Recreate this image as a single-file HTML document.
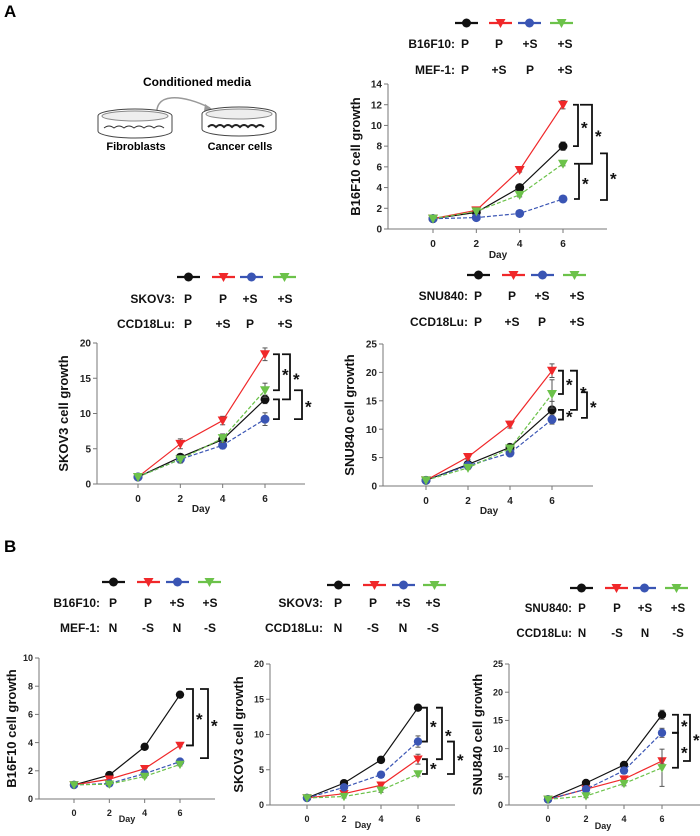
<!DOCTYPE html>
<html><head><meta charset="utf-8"><style>
html,body{margin:0;padding:0;background:#fff;}
svg{display:block;font-family:"Liberation Sans",Arial,sans-serif;}
</style></head><body>
<svg id="fig" width="700" height="836" viewBox="0 0 700 836">
<text x="4" y="17" font-size="17" font-weight="bold">A</text>
<text x="4" y="552" font-size="17" font-weight="bold">B</text>
<g>
<text x="197" y="86" font-size="12" font-weight="bold" text-anchor="middle">Conditioned media</text>
<path d="M158,120 C150,90 185,95 210,108" fill="none" stroke="#999" stroke-width="1.5"/>
<path d="M205,104 L212,109 L204,111 Z" fill="#999"/>
<g>
<ellipse cx="135" cy="116" rx="37" ry="7" fill="#fff" stroke="#444"/>
<path d="M98,116 L98,131 A37,7 0 0 0 172,131 L172,116" fill="#fff" stroke="#444"/>
<ellipse cx="135" cy="116" rx="33" ry="5" fill="#eee" stroke="#888"/>
<path d="M104,128 q5,-4 10,0 q5,-4 10,0 q5,-4 10,0 q5,-4 10,0 q5,-4 10,0 q5,-4 10,0" fill="none" stroke="#333"/>
</g>
<g>
<ellipse cx="239" cy="114" rx="37" ry="7" fill="#fff" stroke="#444"/>
<path d="M202,114 L202,129 A37,7 0 0 0 276,129 L276,114" fill="#fff" stroke="#444"/>
<ellipse cx="239" cy="114" rx="33" ry="5" fill="#eee" stroke="#888"/>
<path d="M208,127 q4,-4 8,0 q4,-4 8,0 q4,-4 8,0 q4,-4 8,0 q4,-4 8,0 q4,-4 8,0 q4,-4 8,0" fill="none" stroke="#222" stroke-width="2"/>
</g>
<text x="136" y="150" font-size="11" font-weight="bold" text-anchor="middle">Fibroblasts</text>
<text x="240" y="150" font-size="11" font-weight="bold" text-anchor="middle">Cancer cells</text>
</g>
</svg>
<script>
const days = [0, 2, 4, 6];
// A1 B16F10
const a1Black = [1, 1.6, 4, 8];
const a1Red = [1, 1.8, 5.7, 12];
const a1Blue = [1, 1.1, 1.5, 2.9];
const a1Green = [1, 1.7, 3.3, 6.3];
const a1Ticks = [0, 2, 4, 6, 8, 10, 12, 14];
// A2 SKOV3
const a2Black = [1, 3.8, 6.3, 12];
const a2Red = [1, 5.7, 9, 18.4];
const a2Blue = [1, 3.5, 5.5, 9.2];
const a2Green = [1, 3.5, 6.5, 13.3];
const a2Ticks = [0, 5, 10, 15, 20];
// A3 SNU840
const a3Black = [1, 3.8, 6.8, 13.4];
const a3Red = [1, 5.1, 10.8, 20.3];
const a3Blue = [1, 3.6, 5.8, 11.7];
const a3Green = [1, 3.2, 6.6, 16.2];
const a3Ticks = [0, 5, 10, 15, 20, 25];
// B1 B16F10
const b1Black = [1, 1.7, 3.7, 7.4];
const b1Red = [1, 1.4, 2.15, 3.8];
const b1Blue = [1, 1.1, 1.8, 2.65];
const b1Green = [1, 1.05, 1.6, 2.45];
const b1Ticks = [0, 2, 4, 6, 8, 10];
// B2 SKOV3
const b2Black = [1, 3.1, 6.4, 13.8];
const b2Red = [1, 1.6, 2.8, 6.5];
const b2Blue = [1, 2.5, 4.3, 9];
const b2Green = [1, 1.2, 2.1, 4.4];
const b2Ticks = [0, 5, 10, 15, 20];
// B3 SNU840
const b3Black = [1, 3.9, 7.1, 16];
const b3Red = [1, 2.8, 4.6, 7.8];
const b3Blue = [1, 2.8, 6.1, 12.8];
const b3Green = [1, 1.6, 3.8, 6.6];
const b3Ticks = [0, 5, 10, 15, 20, 25];
// error bars (half-widths)
const a1Err = [[0,0.1,0.2,0.4],[0,0.1,0.2,0.4],[0,0.1,0.1,0.15],[0,0.1,0.2,0.2]];
const a2Err = [[0,0.3,0.4,0.6],[0,0.7,0.6,0.9],[0,0.5,0.5,0.9],[0,0.5,0.6,1]];
const a3Err = [[0,0.3,0.6,1.5],[0,0.4,0.6,1.2],[0,0.3,0.5,0.8],[0,0.3,0.6,2.5]];
const b1Err = [[0,0.1,0.1,0.1],[0,0.1,0.15,0.1],[0,0.05,0.1,0.1],[0,0.05,0.1,0.1]];
const b2Err = [[0,0.3,0.4,0.3],[0,0.2,0.3,0.7],[0,0.3,0.3,0.8],[0,0.2,0.3,0.3]];
const b3Err = [[0,0.3,0.4,0.8],[0,0.3,0.4,0.5],[0,0.3,0.4,0.8],[0,0.3,0.4,3.3]];

const NS = 'http://www.w3.org/2000/svg';
const svg = document.getElementById('fig');
function mk(tag, attrs, parent, text) {
  const e = document.createElementNS(NS, tag);
  for (const k in attrs) e.setAttribute(k, attrs[k]);
  if (text !== undefined) e.textContent = text;
  (parent || svg).appendChild(e);
  return e;
}
const styles = [
  {color:'#111', dash:'', marker:'circle', name:'black'},
  {color:'#f0282a', dash:'', marker:'tri', name:'red'},
  {color:'#3a55b4', dash:'4,2', marker:'circle', name:'blue'},
  {color:'#6cc24a', dash:'4,2', marker:'tri', name:'green'}
];
function marker(g, m, x, y, color, r) {
  if (m === 'circle') return mk('circle', {cx:x, cy:y, r:r, fill:color}, g);
  return mk('path', {d:`M${x-r-0.5},${y-r+0.5} L${x+r+0.5},${y-r+0.5} L${x},${y+r+0.5} Z`, fill:color}, g);
}
function chart(c) {
  const g = mk('g', {});
  
  
  const xs = d => c.x0 + (c.x6 - c.x0) * d / 6;
  const ys = v => c.y0 - (c.y0 - c.yTop) * v / c.yMax;
  const ax = mk('g', {}, g);
  
  
  mk('line', {x1:c.ax, y1:ys(c.yMax), x2:c.ax, y2:c.y0, stroke:'#777', 'stroke-width':1}, ax);
  mk('line', {x1:c.ax, y1:c.y0, x2:c.axEnd, y2:c.y0, stroke:'#777', 'stroke-width':1}, ax);
  c.ticks.forEach(t => {
    mk('line', {x1:c.ax - 4, y1:ys(t), x2:c.ax, y2:ys(t), stroke:'#777'}, ax);
    const tl = mk('text', {x:c.ax - 6, y:ys(t) + c.fs * 0.36, 'font-size':c.fs, 'font-weight':'bold', 'text-anchor':'end', fill:'#222'}, ax, t);
    
    
  });
  days.forEach(d => {
    mk('line', {x1:xs(d), y1:c.y0, x2:xs(d), y2:c.y0 + 4, stroke:'#777'}, ax);
    const tl = mk('text', {x:xs(d), y:c.y0 + 8 + c.fs, 'font-size':c.fs, 'font-weight':'bold', 'text-anchor':'middle', fill:'#222'}, ax, d);
    
    
  });
  const dl = mk('text', {x:c.dayX, y:c.dayY, 'font-size':c.fs, 'font-weight':'bold', 'text-anchor':'middle', fill:'#222'}, ax, 'Day');
  
  
  const yc = (c.y0 + ys(c.yMax)) / 2;
  const yt = mk('text', {x:c.titleX, y:yc, 'font-size':c.tfs, 'font-weight':'bold', 'text-anchor':'middle', transform:`rotate(-90 ${c.titleX} ${yc})`, fill:'#111'}, ax, c.title);
  
  
  c.series.forEach((vals, i) => {
    const s = styles[i];
    const sg = mk('g', {}, g);
    
    
    const pts = days.map((d, j) => xs(d) + ',' + ys(vals[j])).join(' ');
    mk('polyline', {points:pts, fill:'none', stroke:s.color, 'stroke-width':1.2, 'stroke-dasharray':s.dash}, sg);
    days.forEach((d, j) => {
      const e = c.err[i][j];
      if (e > 0) {
        const x = xs(d);
        mk('line', {x1:x, y1:ys(vals[j] - e), x2:x, y2:ys(vals[j] + e), stroke:'#555', 'stroke-width':1}, sg);
        mk('line', {x1:x - 2.5, y1:ys(vals[j] + e), x2:x + 2.5, y2:ys(vals[j] + e), stroke:'#555'}, sg);
        mk('line', {x1:x - 2.5, y1:ys(vals[j] - e), x2:x + 2.5, y2:ys(vals[j] - e), stroke:'#555'}, sg);
      }
      const mm = marker(sg, s.marker, xs(d), ys(vals[j]), s.color, c.mr);
      
      
    });
  });
  c.brackets.forEach(b => {
    const bg = mk('g', {}, g);
    
    
    const y1 = ys(b[0]), y2 = ys(b[1]), x = b[2], w = b[3];
    mk('path', {d:`M${x},${y1} H${x + w} V${y2} H${x}`, fill:'none', stroke:'#111', 'stroke-width':1.8}, bg);
    if (b[4]) mk('text', {x:x + w + 3, y:(y1 + y2) / 2 + 8, 'font-size':c.sfs, 'font-weight':'bold', fill:'#111'}, bg, '*');
  });
  const lg = mk('g', {}, g);
  
  
  c.legLines.forEach((lx, i) => {
    const s = styles[i];
    mk('line', {x1:lx, y1:c.legY, x2:lx + 23, y2:c.legY, stroke:s.color, 'stroke-width':2.2}, lg);
    marker(lg, s.marker, lx + 11.5, c.legY, s.color, 4.5);
  });
  [[c.row1Y, c.row1Label, c.row1], [c.row2Y, c.row2Label, c.row2]].forEach(r => {
    const l = mk('text', {x:c.labelEnd, y:r[0], 'font-size':c.lfs, 'font-weight':'bold', 'text-anchor':'end', fill:'#111'}, lg, r[1]);
    
    
    r[2].forEach((t, k) => {
      const tt = mk('text', {x:c.colX[k], y:r[0], 'font-size':c.lfs, 'font-weight':'bold', 'text-anchor':'middle', fill:'#111'}, lg, t);
      
      
    });
  });
}
const Afs = {fs:10, tfs:13, lfs:12, sfs:17, mr:4.5};
const Bfs = {fs:9, tfs:13, lfs:12, sfs:17, mr:4.2};
chart(Object.assign({id:'a1-b16f10', x0:433, x6:563, ax:388, axEnd:607, y0:229, yTop:84, yMax:14, ticks:a1Ticks,
  series:[a1Black, a1Red, a1Blue, a1Green], err:a1Err, title:'B16F10 cell growth', titleX:360, dayX:498, dayY:258,
  brackets:[[12,8,573,5,true],[12,6.3,580,12,true],[6.3,2.9,574,5,true],[7.3,2.8,600,7,true]],
  legY:23, legLines:[455,489,518,550], row1Y:48, row2Y:74, labelEnd:455, row1Label:'B16F10:', row2Label:'MEF-1:',
  row1:['P','P','+S','+S'], row2:['P','+S','P','+S'], colX:[465,499,530,565]}, Afs));
chart(Object.assign({id:'a2-skov3', x0:138, x6:265, ax:97, axEnd:305, y0:484, yTop:343, yMax:20, ticks:a2Ticks,
  series:[a2Black, a2Red, a2Blue, a2Green], err:a2Err, title:'SKOV3 cell growth', titleX:68, dayX:201, dayY:512,
  brackets:[[18.4,13.3,273,6,true],[18.4,12,282,8,true],[12,9.2,273,6,false],[13.3,9.2,294,8,true]],
  legY:277, legLines:[177,212,240,273], row1Y:303, row2Y:328, labelEnd:175, row1Label:'SKOV3:', row2Label:'CCD18Lu:',
  row1:['P','P','+S','+S'], row2:['P','+S','P','+S'], colX:[188,223,250,285]}, Afs));
chart(Object.assign({id:'a3-snu840', x0:426, x6:552, ax:383, axEnd:593, y0:486, yTop:344, yMax:25, ticks:a3Ticks,
  series:[a3Black, a3Red, a3Blue, a3Green], err:a3Err, title:'SNU840 cell growth', titleX:354, dayX:489, dayY:514,
  brackets:[[20.3,16.2,558,5,true],[20.3,13.4,570,7,true],[13.4,11.7,558,5,true],[16.5,12,581,6,true]],
  legY:275, legLines:[467,502,531,563], row1Y:300, row2Y:326, labelEnd:468, row1Label:'SNU840:', row2Label:'CCD18Lu:',
  row1:['P','P','+S','+S'], row2:['P','+S','P','+S'], colX:[478,512,542,577]}, Afs));
chart(Object.assign({id:'b1-b16f10', x0:74, x6:180, ax:39, axEnd:215, y0:799, yTop:658, yMax:10, ticks:b1Ticks,
  series:[b1Black, b1Red, b1Blue, b1Green], err:b1Err, title:'B16F10 cell growth', titleX:16, dayX:127, dayY:822,
  brackets:[[7.8,3.8,186,7,true],[7.8,2.9,200,8,true]],
  legY:582, legLines:[102,137,166,198], row1Y:607, row2Y:632, labelEnd:100, row1Label:'B16F10:', row2Label:'MEF-1:',
  row1:['P','P','+S','+S'], row2:['N','-S','N','-S'], colX:[113,148,177,210]}, Bfs));
chart(Object.assign({id:'b2-skov3', x0:307, x6:418, ax:270, axEnd:455, y0:805, yTop:664, yMax:20, ticks:b2Ticks,
  series:[b2Black, b2Red, b2Blue, b2Green], err:b2Err, title:'SKOV3 cell growth', titleX:243, dayX:363, dayY:828,
  brackets:[[13.8,9,422,5,true],[13.8,6.5,436,6,true],[6.5,4.4,422,5,true],[9,4.4,447,7,true]],
  legY:585, legLines:[327,363,392,423], row1Y:607, row2Y:632, labelEnd:323, row1Label:'SKOV3:', row2Label:'CCD18Lu:',
  row1:['P','P','+S','+S'], row2:['N','-S','N','-S'], colX:[338,373,403,433]}, Bfs));
chart(Object.assign({id:'b3-snu840', x0:548, x6:662, ax:509, axEnd:700, y0:805, yTop:664, yMax:25, ticks:b3Ticks,
  series:[b3Black, b3Red, b3Blue, b3Green], err:b3Err, title:'SNU840 cell growth', titleX:482, dayX:603, dayY:829,
  brackets:[[16,12.8,672,6,true],[12.8,6.6,672,6,true],[16,7.8,683,7,true]],
  legY:588, legLines:[570,605,633,665], row1Y:612, row2Y:637, labelEnd:572, row1Label:'SNU840:', row2Label:'CCD18Lu:',
  row1:['P','P','+S','+S'], row2:['N','-S','N','-S'], colX:[582,617,645,678]}, Object.assign({}, Bfs, {lfs:11.5})));
</script>
</body></html>
